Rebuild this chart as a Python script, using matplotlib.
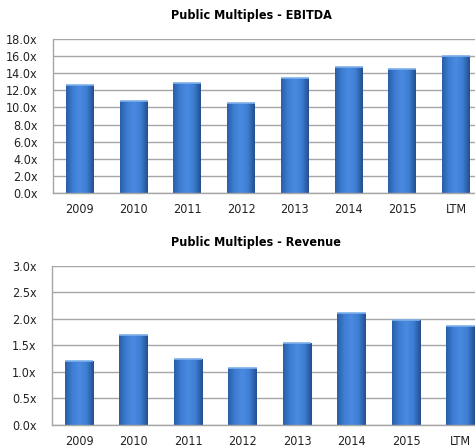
import numpy as np
import matplotlib.pyplot as plt
from matplotlib.ticker import FuncFormatter
from matplotlib.colors import LinearSegmentedColormap
from matplotlib import font_manager

years = ['2009', '2010', '2011', '2012', '2013', '2014', '2015', 'LTM']
ebitda = [12.6, 10.7, 12.9, 10.5, 13.4, 14.7, 14.5, 16.0]
revenue = [1.2, 1.7, 1.25, 1.07, 1.55, 2.1, 1.98, 1.87]

W, H = 475, 448
fig = plt.figure(figsize=(W / 100, H / 100), dpi=100)

bar_cmap = LinearSegmentedColormap.from_list(
    'bev', ['#2a5ea8', '#3d7ed3', '#4a8ae0', '#3d7ed3', '#244f90'])
grad = np.linspace(0, 1, 64).reshape(1, -1)
tick_font = dict(family='DejaVu Sans', stretch='condensed', size=9)


def panel(rect, values, ymax, step, fmt, title, title_xy):
    ax = fig.add_axes(rect)
    x = np.arange(len(years))
    bars = ax.bar(x, values, width=0.52, color='#3b7bd0', zorder=2)
    for b in bars:
        b.set_facecolor('none')
        x0, y0 = b.get_x(), b.get_y()
        im = ax.imshow(grad, cmap=bar_cmap, aspect='auto', zorder=2,
                       extent=(x0, x0 + b.get_width(), y0, y0 + b.get_height()))
        im.set_clip_path(b)
        # light cap on top
        ax.plot([x0, x0 + b.get_width()], [b.get_height()] * 2,
                color='#7fb0ec', lw=1.2, zorder=3, solid_capstyle='butt')
    ax.set_xlim(-0.5, len(years) - 0.5)
    ax.set_ylim(0, ymax)
    ax.set_yticks(np.arange(0, ymax + step / 2, step))
    ax.yaxis.set_major_formatter(FuncFormatter(lambda v, p: fmt.format(v)))
    ax.set_xticks(x)
    ax.set_xticklabels(years)
    for lab in ax.get_xticklabels() + ax.get_yticklabels():
        lab.set_fontproperties(font_manager.FontProperties(**tick_font))
    ax.grid(axis='y', color='#a6a6a6', lw=1.0, zorder=0)
    for s in ['top', 'right']:
        ax.spines[s].set_visible(False)
    for s in ['left', 'bottom']:
        ax.spines[s].set_color('#a6a6a6')
        ax.spines[s].set_linewidth(1.0)
    ax.tick_params(length=0, colors='#222222', pad=7)
    ax.tick_params(axis='y', pad=11)
    fig.text(title_xy[0] / W, 1 - title_xy[1] / H, title, ha='center',
             va='center', fontsize=9, fontweight='bold',
             family='DejaVu Sans', stretch='condensed')
    return ax


def rect(l, t, r, b):
    return [l / W, 1 - b / H, (r - l) / W, (b - t) / H]


panel(rect(53, 38.7, 483, 193.3), ebitda, 18, 2, '{:.1f}x',
      'Public Multiples - EBITDA', (251, 16))
panel(rect(51.7, 265.7, 487.8, 425), revenue, 3, 0.5, '{:.1f}x',
      'Public Multiples - Revenue', (256, 242))

fig.savefig('out.png', dpi=100)
